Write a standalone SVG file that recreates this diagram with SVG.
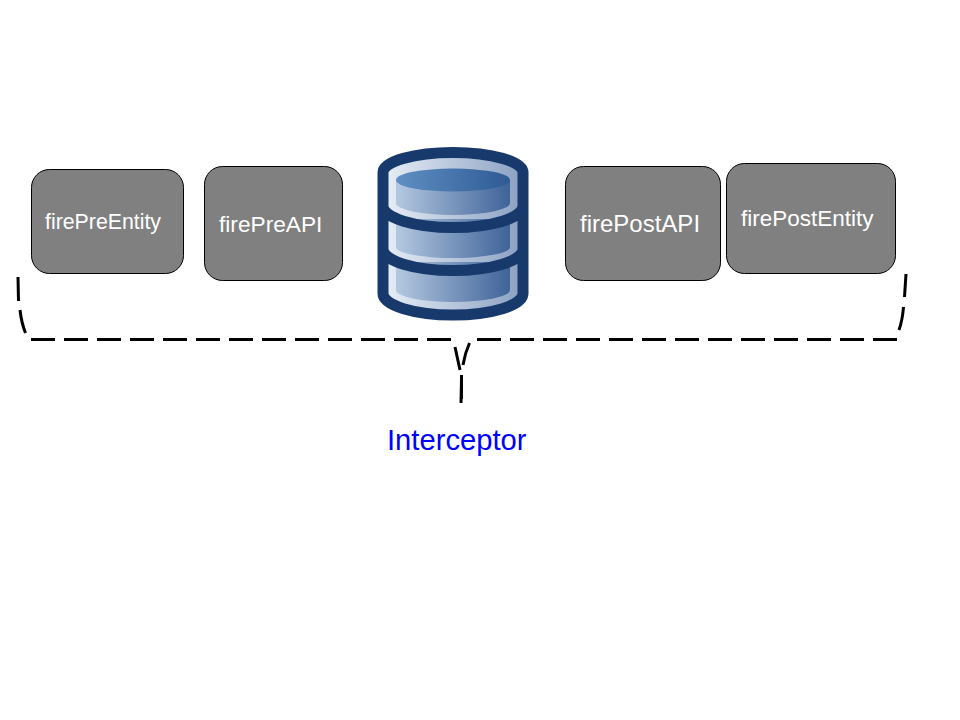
<svg xmlns="http://www.w3.org/2000/svg" width="960" height="720" viewBox="0 0 960 720">
<style>
.box{fill:#808080;stroke:#000;stroke-width:1}
.lbl{font-family:"Liberation Sans",Arial,sans-serif;fill:#fff}
.dash{fill:none;stroke:#000;stroke-width:3;stroke-dasharray:24 9}
.rim{fill:none;stroke:#17396b;stroke-width:11}
</style>
<defs>
<linearGradient id="g1" gradientUnits="userSpaceOnUse" x1="383" y1="0" x2="523" y2="0"><stop offset="0" stop-color="#e8eff7"/><stop offset="1" stop-color="#8aa0c2"/></linearGradient>
<linearGradient id="g2" gradientUnits="userSpaceOnUse" x1="396" y1="0" x2="510" y2="0"><stop offset="0" stop-color="#b4c8e0"/><stop offset="1" stop-color="#3f6399"/></linearGradient>
<linearGradient id="g3" gradientUnits="userSpaceOnUse" x1="396" y1="0" x2="510" y2="0"><stop offset="0" stop-color="#5f8fc3"/><stop offset="1" stop-color="#2f5a94"/></linearGradient>
</defs>
<rect width="960" height="720" fill="#fff"/>
<g id="firePreEntity"><rect class="box" x="31.500" y="169.500" width="152" height="104" rx="18"/><text class="lbl" x="45" y="229" font-size="21.300">firePreEntity</text></g>
<g id="firePreAPI"><rect class="box" x="204.500" y="166.500" width="138" height="114" rx="18"/><text class="lbl" x="219" y="232" font-size="22.700">firePreAPI</text></g>
<g id="database">
<path d="M383 172.500A70 20 0 0 1 523 172.500V293.500A70 21.500 0 0 1 383 293.500Z" fill="url(#g1)"/>
<path d="M396 180V203A57 12 0 0 0 510 203V180Z" fill="url(#g2)"/>
<ellipse cx="453" cy="180" rx="57" ry="11.500" fill="url(#g3)"/>
<path d="M396 219V247A57 11 0 0 0 510 247V219Z" fill="url(#g2)"/>
<path d="M396 262V290A57 12 0 0 0 510 290V262Z" fill="url(#g2)"/>
<path class="rim" d="M383 206A70 21.500 0 0 0 523 206M383 249A70 21.500 0 0 0 523 249M383 172.500A70 20 0 0 1 523 172.500V293.500A70 21.500 0 0 1 383 293.500Z"/>
</g>
<g id="firePostAPI"><rect class="box" x="565.500" y="166.500" width="155" height="114" rx="18"/><text class="lbl" x="580" y="232" font-size="24">firePostAPI</text></g>
<g id="firePostEntity"><rect class="box" x="726.500" y="163.500" width="169" height="110" rx="18"/><text class="lbl" x="741" y="226" font-size="22.500">firePostEntity</text></g>
<g id="connectors">
<path class="dash" d="M18 277L18.500 301M20 310Q21.500 323 25.500 333M31 339.500L451 339.500M455 347L460 370M461.500 375L461.500 399"/>
<path class="dash" d="M906 274L904.500 297M903.500 307Q902.500 320 899 330M897 339.500L477 339.500M469.500 343Q465 353 463 365M461.500 379L461 403"/>
</g>
<g id="interceptor"><text x="387" y="449.500" font-size="29.200" font-family="'Liberation Sans',Arial,sans-serif" fill="#0000ff">Interceptor</text></g>
</svg>
